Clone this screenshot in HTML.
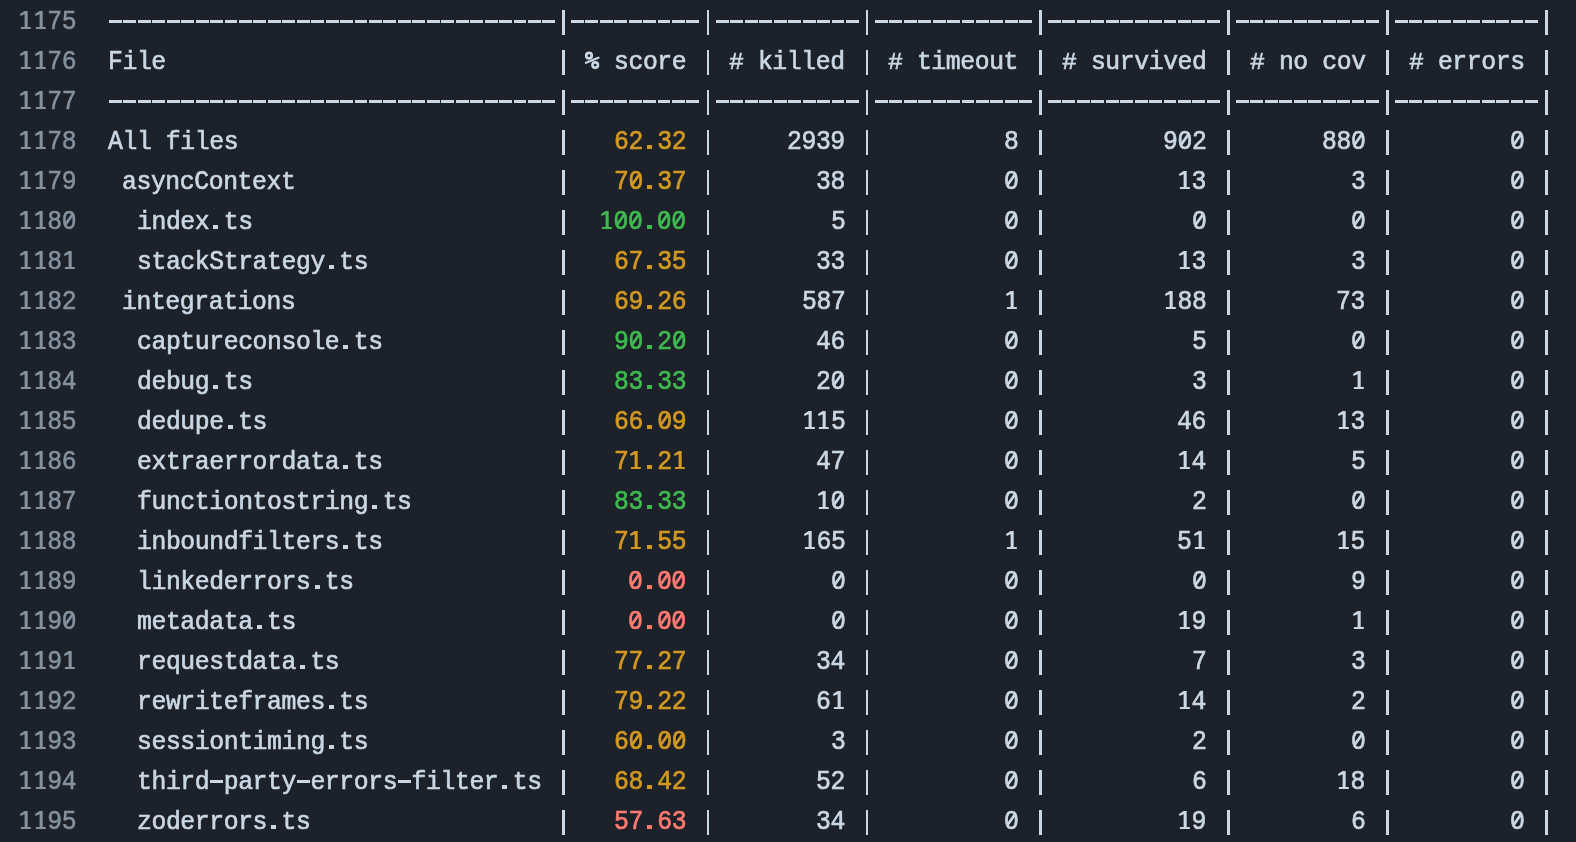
<!DOCTYPE html>
<html><head><meta charset="utf-8"><style>
html,body{margin:0;padding:0;background:#1d2129;width:1576px;height:842px;overflow:hidden}
body{position:relative;font-family:"Liberation Mono",monospace;font-size:27.5px;-webkit-text-stroke:0.7px currentColor;color:#cad7e4}
.row{will-change:transform;position:absolute;left:0;width:1576px;height:40px;line-height:40px;white-space:pre}
.n{position:absolute;right:1500px;top:2px;color:#8592a0;-webkit-text-stroke:0.5px currentColor;letter-spacing:-0.447px;transform:scaleX(0.9);transform-origin:100% 0}
b{position:absolute;top:2px;font-weight:normal;letter-spacing:-0.447px;transform:scaleX(0.9);transform-origin:0 0}
.p{position:absolute;top:10px;height:25px;width:2.6px;background:#cad7e4}
.d{position:absolute;top:20px;height:2.7px;background:repeating-linear-gradient(90deg,transparent 0,transparent 0.9px,#cad7e4 0.9px,#cad7e4 13.8px,transparent 13.8px,transparent 14.45px)}
.y{color:#d29922}.g{color:#3fb950}.rd{color:#ff7b72}
u{text-decoration:none;position:relative}
u::before{content:"";position:absolute;left:4.94px;top:10.2px;width:6.2px;height:6.8px;background:#1d2129}
u::after{content:"";position:absolute;left:6.82px;top:6.2px;width:2.7px;height:14px;background:currentColor;transform:rotate(38deg)}
.pc{position:absolute;left:580px;top:0}
.lc{display:inline-block;transform:scaleY(0.92);transform-origin:0 27.3px}
.pd{position:absolute;top:24.7px;width:5.1px;height:4.4px;background:currentColor}
.o{position:absolute;top:0;fill:currentColor;overflow:visible}.o.ln{color:#8592a0}
.hs{display:inline-block;transform:scaleY(0.9);transform-origin:0 26.5px}
</style></head><body>
<div class="row" style="top:0px"><span class="n">  75</span><i class="d" style="left:108.00px;width:447.95px"></i><i class="d" style="left:570.40px;width:130.05px"></i><i class="d" style="left:714.90px;width:144.50px"></i><i class="d" style="left:873.85px;width:158.95px"></i><i class="d" style="left:1047.25px;width:173.40px"></i><i class="d" style="left:1235.10px;width:144.50px"></i><i class="d" style="left:1394.05px;width:144.50px"></i><i class="p" style="left:562.38px"></i><i class="p" style="left:706.88px"></i><i class="p" style="left:865.83px"></i><i class="p" style="left:1039.22px"></i><i class="p" style="left:1227.07px"></i><i class="p" style="left:1386.02px"></i><i class="p" style="left:1544.97px"></i><svg class="o ln" style="left:18.20px" width="15" height="40"><path d="M6.6 11H9.7V26.9H12.8V29H2.9V26.9H6.6V14.3L2.5 16L2 13.9Z"/></svg><svg class="o ln" style="left:32.65px" width="15" height="40"><path d="M6.6 11H9.7V26.9H12.8V29H2.9V26.9H6.6V14.3L2.5 16L2 13.9Z"/></svg></div>
<div class="row" style="top:40px"><span class="n">  76</span><b class="" style="left:108.00px">F<span class="lc">ile</span></b><b class="" style="left:613.75px"><span class="lc">score</span></b><b class="" style="left:729.35px"><span class="hs">#</span> <span class="lc">killed</span></b><b class="" style="left:888.30px"><span class="hs">#</span> <span class="lc">timeout</span></b><b class="" style="left:1061.70px"><span class="hs">#</span> <span class="lc">survived</span></b><b class="" style="left:1249.55px"><span class="hs">#</span> <span class="lc">no</span> <span class="lc">cov</span></b><b class="" style="left:1408.50px"><span class="hs">#</span> <span class="lc">errors</span></b><i class="p" style="left:562.38px"></i><i class="p" style="left:706.88px"></i><i class="p" style="left:865.83px"></i><i class="p" style="left:1039.22px"></i><i class="p" style="left:1227.07px"></i><i class="p" style="left:1386.02px"></i><i class="p" style="left:1544.97px"></i><svg class="pc" width="24" height="40" viewBox="0 0 24 40"><g fill="none" stroke="#cad7e4"><circle cx="9" cy="15.7" r="2.75" stroke-width="2.7"/><circle cx="15.2" cy="25.1" r="2.75" stroke-width="2.7"/><line x1="6" y1="22.8" x2="18.4" y2="17.7" stroke-width="2.3" stroke-linecap="round"/></g></svg><svg class="o ln" style="left:18.20px" width="15" height="40"><path d="M6.6 11H9.7V26.9H12.8V29H2.9V26.9H6.6V14.3L2.5 16L2 13.9Z"/></svg><svg class="o ln" style="left:32.65px" width="15" height="40"><path d="M6.6 11H9.7V26.9H12.8V29H2.9V26.9H6.6V14.3L2.5 16L2 13.9Z"/></svg></div>
<div class="row" style="top:80px"><span class="n">  77</span><i class="d" style="left:108.00px;width:447.95px"></i><i class="d" style="left:570.40px;width:130.05px"></i><i class="d" style="left:714.90px;width:144.50px"></i><i class="d" style="left:873.85px;width:158.95px"></i><i class="d" style="left:1047.25px;width:173.40px"></i><i class="d" style="left:1235.10px;width:144.50px"></i><i class="d" style="left:1394.05px;width:144.50px"></i><i class="p" style="left:562.38px"></i><i class="p" style="left:706.88px"></i><i class="p" style="left:865.83px"></i><i class="p" style="left:1039.22px"></i><i class="p" style="left:1227.07px"></i><i class="p" style="left:1386.02px"></i><i class="p" style="left:1544.97px"></i><svg class="o ln" style="left:18.20px" width="15" height="40"><path d="M6.6 11H9.7V26.9H12.8V29H2.9V26.9H6.6V14.3L2.5 16L2 13.9Z"/></svg><svg class="o ln" style="left:32.65px" width="15" height="40"><path d="M6.6 11H9.7V26.9H12.8V29H2.9V26.9H6.6V14.3L2.5 16L2 13.9Z"/></svg></div>
<div class="row" style="top:120px"><span class="n">  78</span><b class="" style="left:108.00px">A<span class="lc">ll</span> <span class="lc">files</span></b><i class="pd y" style="left:646.85px"></i><b class="y" style="left:613.75px">62 32</b><b class="" style="left:787.15px">2939</b><b class="" style="left:1003.90px">8</b><b class="" style="left:1162.85px">9<u>0</u>2</b><b class="" style="left:1321.80px">88<u>0</u></b><b class="" style="left:1509.65px"><u>0</u></b><i class="p" style="left:562.38px"></i><i class="p" style="left:706.88px"></i><i class="p" style="left:865.83px"></i><i class="p" style="left:1039.22px"></i><i class="p" style="left:1227.07px"></i><i class="p" style="left:1386.02px"></i><i class="p" style="left:1544.97px"></i><svg class="o ln" style="left:18.20px" width="15" height="40"><path d="M6.6 11H9.7V26.9H12.8V29H2.9V26.9H6.6V14.3L2.5 16L2 13.9Z"/></svg><svg class="o ln" style="left:32.65px" width="15" height="40"><path d="M6.6 11H9.7V26.9H12.8V29H2.9V26.9H6.6V14.3L2.5 16L2 13.9Z"/></svg></div>
<div class="row" style="top:160px"><span class="n">  79</span><b class="" style="left:122.45px"><span class="lc">async</span>C<span class="lc">ontext</span></b><i class="pd y" style="left:646.85px"></i><b class="y" style="left:613.75px">7<u>0</u> 37</b><b class="" style="left:816.05px">38</b><b class="" style="left:1003.90px"><u>0</u></b><svg class="o " style="left:1177.30px" width="15" height="40"><path d="M6.6 11H9.7V26.9H12.8V29H2.9V26.9H6.6V14.3L2.5 16L2 13.9Z"/></svg><b class="" style="left:1177.30px"> 3</b><b class="" style="left:1350.70px">3</b><b class="" style="left:1509.65px"><u>0</u></b><i class="p" style="left:562.38px"></i><i class="p" style="left:706.88px"></i><i class="p" style="left:865.83px"></i><i class="p" style="left:1039.22px"></i><i class="p" style="left:1227.07px"></i><i class="p" style="left:1386.02px"></i><i class="p" style="left:1544.97px"></i><svg class="o ln" style="left:18.20px" width="15" height="40"><path d="M6.6 11H9.7V26.9H12.8V29H2.9V26.9H6.6V14.3L2.5 16L2 13.9Z"/></svg><svg class="o ln" style="left:32.65px" width="15" height="40"><path d="M6.6 11H9.7V26.9H12.8V29H2.9V26.9H6.6V14.3L2.5 16L2 13.9Z"/></svg></div>
<div class="row" style="top:200px"><span class="n">  8<u>0</u></span><i class="pd " style="left:213.35px"></i><b class="" style="left:136.90px"><span class="lc">index</span> <span class="lc">ts</span></b><svg class="o g" style="left:599.30px" width="15" height="40"><path d="M6.6 11H9.7V26.9H12.8V29H2.9V26.9H6.6V14.3L2.5 16L2 13.9Z"/></svg><i class="pd g" style="left:646.85px"></i><b class="g" style="left:599.30px"> <u>0</u><u>0</u> <u>0</u><u>0</u></b><b class="" style="left:830.50px">5</b><b class="" style="left:1003.90px"><u>0</u></b><b class="" style="left:1191.75px"><u>0</u></b><b class="" style="left:1350.70px"><u>0</u></b><b class="" style="left:1509.65px"><u>0</u></b><i class="p" style="left:562.38px"></i><i class="p" style="left:706.88px"></i><i class="p" style="left:865.83px"></i><i class="p" style="left:1039.22px"></i><i class="p" style="left:1227.07px"></i><i class="p" style="left:1386.02px"></i><i class="p" style="left:1544.97px"></i><svg class="o ln" style="left:18.20px" width="15" height="40"><path d="M6.6 11H9.7V26.9H12.8V29H2.9V26.9H6.6V14.3L2.5 16L2 13.9Z"/></svg><svg class="o ln" style="left:32.65px" width="15" height="40"><path d="M6.6 11H9.7V26.9H12.8V29H2.9V26.9H6.6V14.3L2.5 16L2 13.9Z"/></svg></div>
<div class="row" style="top:240px"><span class="n">  8 </span><i class="pd " style="left:328.95px"></i><b class="" style="left:136.90px"><span class="lc">stack</span>S<span class="lc">trategy</span> <span class="lc">ts</span></b><i class="pd y" style="left:646.85px"></i><b class="y" style="left:613.75px">67 35</b><b class="" style="left:816.05px">33</b><b class="" style="left:1003.90px"><u>0</u></b><svg class="o " style="left:1177.30px" width="15" height="40"><path d="M6.6 11H9.7V26.9H12.8V29H2.9V26.9H6.6V14.3L2.5 16L2 13.9Z"/></svg><b class="" style="left:1177.30px"> 3</b><b class="" style="left:1350.70px">3</b><b class="" style="left:1509.65px"><u>0</u></b><i class="p" style="left:562.38px"></i><i class="p" style="left:706.88px"></i><i class="p" style="left:865.83px"></i><i class="p" style="left:1039.22px"></i><i class="p" style="left:1227.07px"></i><i class="p" style="left:1386.02px"></i><i class="p" style="left:1544.97px"></i><svg class="o ln" style="left:18.20px" width="15" height="40"><path d="M6.6 11H9.7V26.9H12.8V29H2.9V26.9H6.6V14.3L2.5 16L2 13.9Z"/></svg><svg class="o ln" style="left:32.65px" width="15" height="40"><path d="M6.6 11H9.7V26.9H12.8V29H2.9V26.9H6.6V14.3L2.5 16L2 13.9Z"/></svg><svg class="o ln" style="left:61.55px" width="15" height="40"><path d="M6.6 11H9.7V26.9H12.8V29H2.9V26.9H6.6V14.3L2.5 16L2 13.9Z"/></svg></div>
<div class="row" style="top:280px"><span class="n">  82</span><b class="" style="left:122.45px"><span class="lc">integrations</span></b><i class="pd y" style="left:646.85px"></i><b class="y" style="left:613.75px">69 26</b><b class="" style="left:801.60px">587</b><svg class="o " style="left:1003.90px" width="15" height="40"><path d="M6.6 11H9.7V26.9H12.8V29H2.9V26.9H6.6V14.3L2.5 16L2 13.9Z"/></svg><b class="" style="left:1003.90px"> </b><svg class="o " style="left:1162.85px" width="15" height="40"><path d="M6.6 11H9.7V26.9H12.8V29H2.9V26.9H6.6V14.3L2.5 16L2 13.9Z"/></svg><b class="" style="left:1162.85px"> 88</b><b class="" style="left:1336.25px">73</b><b class="" style="left:1509.65px"><u>0</u></b><i class="p" style="left:562.38px"></i><i class="p" style="left:706.88px"></i><i class="p" style="left:865.83px"></i><i class="p" style="left:1039.22px"></i><i class="p" style="left:1227.07px"></i><i class="p" style="left:1386.02px"></i><i class="p" style="left:1544.97px"></i><svg class="o ln" style="left:18.20px" width="15" height="40"><path d="M6.6 11H9.7V26.9H12.8V29H2.9V26.9H6.6V14.3L2.5 16L2 13.9Z"/></svg><svg class="o ln" style="left:32.65px" width="15" height="40"><path d="M6.6 11H9.7V26.9H12.8V29H2.9V26.9H6.6V14.3L2.5 16L2 13.9Z"/></svg></div>
<div class="row" style="top:320px"><span class="n">  83</span><i class="pd " style="left:343.40px"></i><b class="" style="left:136.90px"><span class="lc">captureconsole</span> <span class="lc">ts</span></b><i class="pd g" style="left:646.85px"></i><b class="g" style="left:613.75px">9<u>0</u> 2<u>0</u></b><b class="" style="left:816.05px">46</b><b class="" style="left:1003.90px"><u>0</u></b><b class="" style="left:1191.75px">5</b><b class="" style="left:1350.70px"><u>0</u></b><b class="" style="left:1509.65px"><u>0</u></b><i class="p" style="left:562.38px"></i><i class="p" style="left:706.88px"></i><i class="p" style="left:865.83px"></i><i class="p" style="left:1039.22px"></i><i class="p" style="left:1227.07px"></i><i class="p" style="left:1386.02px"></i><i class="p" style="left:1544.97px"></i><svg class="o ln" style="left:18.20px" width="15" height="40"><path d="M6.6 11H9.7V26.9H12.8V29H2.9V26.9H6.6V14.3L2.5 16L2 13.9Z"/></svg><svg class="o ln" style="left:32.65px" width="15" height="40"><path d="M6.6 11H9.7V26.9H12.8V29H2.9V26.9H6.6V14.3L2.5 16L2 13.9Z"/></svg></div>
<div class="row" style="top:360px"><span class="n">  84</span><i class="pd " style="left:213.35px"></i><b class="" style="left:136.90px"><span class="lc">debug</span> <span class="lc">ts</span></b><i class="pd g" style="left:646.85px"></i><b class="g" style="left:613.75px">83 33</b><b class="" style="left:816.05px">2<u>0</u></b><b class="" style="left:1003.90px"><u>0</u></b><b class="" style="left:1191.75px">3</b><svg class="o " style="left:1350.70px" width="15" height="40"><path d="M6.6 11H9.7V26.9H12.8V29H2.9V26.9H6.6V14.3L2.5 16L2 13.9Z"/></svg><b class="" style="left:1350.70px"> </b><b class="" style="left:1509.65px"><u>0</u></b><i class="p" style="left:562.38px"></i><i class="p" style="left:706.88px"></i><i class="p" style="left:865.83px"></i><i class="p" style="left:1039.22px"></i><i class="p" style="left:1227.07px"></i><i class="p" style="left:1386.02px"></i><i class="p" style="left:1544.97px"></i><svg class="o ln" style="left:18.20px" width="15" height="40"><path d="M6.6 11H9.7V26.9H12.8V29H2.9V26.9H6.6V14.3L2.5 16L2 13.9Z"/></svg><svg class="o ln" style="left:32.65px" width="15" height="40"><path d="M6.6 11H9.7V26.9H12.8V29H2.9V26.9H6.6V14.3L2.5 16L2 13.9Z"/></svg></div>
<div class="row" style="top:400px"><span class="n">  85</span><i class="pd " style="left:227.80px"></i><b class="" style="left:136.90px"><span class="lc">dedupe</span> <span class="lc">ts</span></b><i class="pd y" style="left:646.85px"></i><b class="y" style="left:613.75px">66 <u>0</u>9</b><svg class="o " style="left:801.60px" width="15" height="40"><path d="M6.6 11H9.7V26.9H12.8V29H2.9V26.9H6.6V14.3L2.5 16L2 13.9Z"/></svg><svg class="o " style="left:816.05px" width="15" height="40"><path d="M6.6 11H9.7V26.9H12.8V29H2.9V26.9H6.6V14.3L2.5 16L2 13.9Z"/></svg><b class="" style="left:801.60px">  5</b><b class="" style="left:1003.90px"><u>0</u></b><b class="" style="left:1177.30px">46</b><svg class="o " style="left:1336.25px" width="15" height="40"><path d="M6.6 11H9.7V26.9H12.8V29H2.9V26.9H6.6V14.3L2.5 16L2 13.9Z"/></svg><b class="" style="left:1336.25px"> 3</b><b class="" style="left:1509.65px"><u>0</u></b><i class="p" style="left:562.38px"></i><i class="p" style="left:706.88px"></i><i class="p" style="left:865.83px"></i><i class="p" style="left:1039.22px"></i><i class="p" style="left:1227.07px"></i><i class="p" style="left:1386.02px"></i><i class="p" style="left:1544.97px"></i><svg class="o ln" style="left:18.20px" width="15" height="40"><path d="M6.6 11H9.7V26.9H12.8V29H2.9V26.9H6.6V14.3L2.5 16L2 13.9Z"/></svg><svg class="o ln" style="left:32.65px" width="15" height="40"><path d="M6.6 11H9.7V26.9H12.8V29H2.9V26.9H6.6V14.3L2.5 16L2 13.9Z"/></svg></div>
<div class="row" style="top:440px"><span class="n">  86</span><i class="pd " style="left:343.40px"></i><b class="" style="left:136.90px"><span class="lc">extraerrordata</span> <span class="lc">ts</span></b><svg class="o y" style="left:628.20px" width="15" height="40"><path d="M6.6 11H9.7V26.9H12.8V29H2.9V26.9H6.6V14.3L2.5 16L2 13.9Z"/></svg><i class="pd y" style="left:646.85px"></i><svg class="o y" style="left:671.55px" width="15" height="40"><path d="M6.6 11H9.7V26.9H12.8V29H2.9V26.9H6.6V14.3L2.5 16L2 13.9Z"/></svg><b class="y" style="left:613.75px">7  2 </b><b class="" style="left:816.05px">47</b><b class="" style="left:1003.90px"><u>0</u></b><svg class="o " style="left:1177.30px" width="15" height="40"><path d="M6.6 11H9.7V26.9H12.8V29H2.9V26.9H6.6V14.3L2.5 16L2 13.9Z"/></svg><b class="" style="left:1177.30px"> 4</b><b class="" style="left:1350.70px">5</b><b class="" style="left:1509.65px"><u>0</u></b><i class="p" style="left:562.38px"></i><i class="p" style="left:706.88px"></i><i class="p" style="left:865.83px"></i><i class="p" style="left:1039.22px"></i><i class="p" style="left:1227.07px"></i><i class="p" style="left:1386.02px"></i><i class="p" style="left:1544.97px"></i><svg class="o ln" style="left:18.20px" width="15" height="40"><path d="M6.6 11H9.7V26.9H12.8V29H2.9V26.9H6.6V14.3L2.5 16L2 13.9Z"/></svg><svg class="o ln" style="left:32.65px" width="15" height="40"><path d="M6.6 11H9.7V26.9H12.8V29H2.9V26.9H6.6V14.3L2.5 16L2 13.9Z"/></svg></div>
<div class="row" style="top:480px"><span class="n">  87</span><i class="pd " style="left:372.30px"></i><b class="" style="left:136.90px"><span class="lc">functiontostring</span> <span class="lc">ts</span></b><i class="pd g" style="left:646.85px"></i><b class="g" style="left:613.75px">83 33</b><svg class="o " style="left:816.05px" width="15" height="40"><path d="M6.6 11H9.7V26.9H12.8V29H2.9V26.9H6.6V14.3L2.5 16L2 13.9Z"/></svg><b class="" style="left:816.05px"> <u>0</u></b><b class="" style="left:1003.90px"><u>0</u></b><b class="" style="left:1191.75px">2</b><b class="" style="left:1350.70px"><u>0</u></b><b class="" style="left:1509.65px"><u>0</u></b><i class="p" style="left:562.38px"></i><i class="p" style="left:706.88px"></i><i class="p" style="left:865.83px"></i><i class="p" style="left:1039.22px"></i><i class="p" style="left:1227.07px"></i><i class="p" style="left:1386.02px"></i><i class="p" style="left:1544.97px"></i><svg class="o ln" style="left:18.20px" width="15" height="40"><path d="M6.6 11H9.7V26.9H12.8V29H2.9V26.9H6.6V14.3L2.5 16L2 13.9Z"/></svg><svg class="o ln" style="left:32.65px" width="15" height="40"><path d="M6.6 11H9.7V26.9H12.8V29H2.9V26.9H6.6V14.3L2.5 16L2 13.9Z"/></svg></div>
<div class="row" style="top:520px"><span class="n">  88</span><i class="pd " style="left:343.40px"></i><b class="" style="left:136.90px"><span class="lc">inboundfilters</span> <span class="lc">ts</span></b><svg class="o y" style="left:628.20px" width="15" height="40"><path d="M6.6 11H9.7V26.9H12.8V29H2.9V26.9H6.6V14.3L2.5 16L2 13.9Z"/></svg><i class="pd y" style="left:646.85px"></i><b class="y" style="left:613.75px">7  55</b><svg class="o " style="left:801.60px" width="15" height="40"><path d="M6.6 11H9.7V26.9H12.8V29H2.9V26.9H6.6V14.3L2.5 16L2 13.9Z"/></svg><b class="" style="left:801.60px"> 65</b><svg class="o " style="left:1003.90px" width="15" height="40"><path d="M6.6 11H9.7V26.9H12.8V29H2.9V26.9H6.6V14.3L2.5 16L2 13.9Z"/></svg><b class="" style="left:1003.90px"> </b><svg class="o " style="left:1191.75px" width="15" height="40"><path d="M6.6 11H9.7V26.9H12.8V29H2.9V26.9H6.6V14.3L2.5 16L2 13.9Z"/></svg><b class="" style="left:1177.30px">5 </b><svg class="o " style="left:1336.25px" width="15" height="40"><path d="M6.6 11H9.7V26.9H12.8V29H2.9V26.9H6.6V14.3L2.5 16L2 13.9Z"/></svg><b class="" style="left:1336.25px"> 5</b><b class="" style="left:1509.65px"><u>0</u></b><i class="p" style="left:562.38px"></i><i class="p" style="left:706.88px"></i><i class="p" style="left:865.83px"></i><i class="p" style="left:1039.22px"></i><i class="p" style="left:1227.07px"></i><i class="p" style="left:1386.02px"></i><i class="p" style="left:1544.97px"></i><svg class="o ln" style="left:18.20px" width="15" height="40"><path d="M6.6 11H9.7V26.9H12.8V29H2.9V26.9H6.6V14.3L2.5 16L2 13.9Z"/></svg><svg class="o ln" style="left:32.65px" width="15" height="40"><path d="M6.6 11H9.7V26.9H12.8V29H2.9V26.9H6.6V14.3L2.5 16L2 13.9Z"/></svg></div>
<div class="row" style="top:560px"><span class="n">  89</span><i class="pd " style="left:314.50px"></i><b class="" style="left:136.90px"><span class="lc">linkederrors</span> <span class="lc">ts</span></b><i class="pd rd" style="left:646.85px"></i><b class="rd" style="left:628.20px"><u>0</u> <u>0</u><u>0</u></b><b class="" style="left:830.50px"><u>0</u></b><b class="" style="left:1003.90px"><u>0</u></b><b class="" style="left:1191.75px"><u>0</u></b><b class="" style="left:1350.70px">9</b><b class="" style="left:1509.65px"><u>0</u></b><i class="p" style="left:562.38px"></i><i class="p" style="left:706.88px"></i><i class="p" style="left:865.83px"></i><i class="p" style="left:1039.22px"></i><i class="p" style="left:1227.07px"></i><i class="p" style="left:1386.02px"></i><i class="p" style="left:1544.97px"></i><svg class="o ln" style="left:18.20px" width="15" height="40"><path d="M6.6 11H9.7V26.9H12.8V29H2.9V26.9H6.6V14.3L2.5 16L2 13.9Z"/></svg><svg class="o ln" style="left:32.65px" width="15" height="40"><path d="M6.6 11H9.7V26.9H12.8V29H2.9V26.9H6.6V14.3L2.5 16L2 13.9Z"/></svg></div>
<div class="row" style="top:600px"><span class="n">  9<u>0</u></span><i class="pd " style="left:256.70px"></i><b class="" style="left:136.90px"><span class="lc">metadata</span> <span class="lc">ts</span></b><i class="pd rd" style="left:646.85px"></i><b class="rd" style="left:628.20px"><u>0</u> <u>0</u><u>0</u></b><b class="" style="left:830.50px"><u>0</u></b><b class="" style="left:1003.90px"><u>0</u></b><svg class="o " style="left:1177.30px" width="15" height="40"><path d="M6.6 11H9.7V26.9H12.8V29H2.9V26.9H6.6V14.3L2.5 16L2 13.9Z"/></svg><b class="" style="left:1177.30px"> 9</b><svg class="o " style="left:1350.70px" width="15" height="40"><path d="M6.6 11H9.7V26.9H12.8V29H2.9V26.9H6.6V14.3L2.5 16L2 13.9Z"/></svg><b class="" style="left:1350.70px"> </b><b class="" style="left:1509.65px"><u>0</u></b><i class="p" style="left:562.38px"></i><i class="p" style="left:706.88px"></i><i class="p" style="left:865.83px"></i><i class="p" style="left:1039.22px"></i><i class="p" style="left:1227.07px"></i><i class="p" style="left:1386.02px"></i><i class="p" style="left:1544.97px"></i><svg class="o ln" style="left:18.20px" width="15" height="40"><path d="M6.6 11H9.7V26.9H12.8V29H2.9V26.9H6.6V14.3L2.5 16L2 13.9Z"/></svg><svg class="o ln" style="left:32.65px" width="15" height="40"><path d="M6.6 11H9.7V26.9H12.8V29H2.9V26.9H6.6V14.3L2.5 16L2 13.9Z"/></svg></div>
<div class="row" style="top:640px"><span class="n">  9 </span><i class="pd " style="left:300.05px"></i><b class="" style="left:136.90px"><span class="lc">requestdata</span> <span class="lc">ts</span></b><i class="pd y" style="left:646.85px"></i><b class="y" style="left:613.75px">77 27</b><b class="" style="left:816.05px">34</b><b class="" style="left:1003.90px"><u>0</u></b><b class="" style="left:1191.75px">7</b><b class="" style="left:1350.70px">3</b><b class="" style="left:1509.65px"><u>0</u></b><i class="p" style="left:562.38px"></i><i class="p" style="left:706.88px"></i><i class="p" style="left:865.83px"></i><i class="p" style="left:1039.22px"></i><i class="p" style="left:1227.07px"></i><i class="p" style="left:1386.02px"></i><i class="p" style="left:1544.97px"></i><svg class="o ln" style="left:18.20px" width="15" height="40"><path d="M6.6 11H9.7V26.9H12.8V29H2.9V26.9H6.6V14.3L2.5 16L2 13.9Z"/></svg><svg class="o ln" style="left:32.65px" width="15" height="40"><path d="M6.6 11H9.7V26.9H12.8V29H2.9V26.9H6.6V14.3L2.5 16L2 13.9Z"/></svg><svg class="o ln" style="left:61.55px" width="15" height="40"><path d="M6.6 11H9.7V26.9H12.8V29H2.9V26.9H6.6V14.3L2.5 16L2 13.9Z"/></svg></div>
<div class="row" style="top:680px"><span class="n">  92</span><i class="pd " style="left:328.95px"></i><b class="" style="left:136.90px"><span class="lc">rewriteframes</span> <span class="lc">ts</span></b><i class="pd y" style="left:646.85px"></i><b class="y" style="left:613.75px">79 22</b><svg class="o " style="left:830.50px" width="15" height="40"><path d="M6.6 11H9.7V26.9H12.8V29H2.9V26.9H6.6V14.3L2.5 16L2 13.9Z"/></svg><b class="" style="left:816.05px">6 </b><b class="" style="left:1003.90px"><u>0</u></b><svg class="o " style="left:1177.30px" width="15" height="40"><path d="M6.6 11H9.7V26.9H12.8V29H2.9V26.9H6.6V14.3L2.5 16L2 13.9Z"/></svg><b class="" style="left:1177.30px"> 4</b><b class="" style="left:1350.70px">2</b><b class="" style="left:1509.65px"><u>0</u></b><i class="p" style="left:562.38px"></i><i class="p" style="left:706.88px"></i><i class="p" style="left:865.83px"></i><i class="p" style="left:1039.22px"></i><i class="p" style="left:1227.07px"></i><i class="p" style="left:1386.02px"></i><i class="p" style="left:1544.97px"></i><svg class="o ln" style="left:18.20px" width="15" height="40"><path d="M6.6 11H9.7V26.9H12.8V29H2.9V26.9H6.6V14.3L2.5 16L2 13.9Z"/></svg><svg class="o ln" style="left:32.65px" width="15" height="40"><path d="M6.6 11H9.7V26.9H12.8V29H2.9V26.9H6.6V14.3L2.5 16L2 13.9Z"/></svg></div>
<div class="row" style="top:720px"><span class="n">  93</span><i class="pd " style="left:328.95px"></i><b class="" style="left:136.90px"><span class="lc">sessiontiming</span> <span class="lc">ts</span></b><i class="pd y" style="left:646.85px"></i><b class="y" style="left:613.75px">6<u>0</u> <u>0</u><u>0</u></b><b class="" style="left:830.50px">3</b><b class="" style="left:1003.90px"><u>0</u></b><b class="" style="left:1191.75px">2</b><b class="" style="left:1350.70px"><u>0</u></b><b class="" style="left:1509.65px"><u>0</u></b><i class="p" style="left:562.38px"></i><i class="p" style="left:706.88px"></i><i class="p" style="left:865.83px"></i><i class="p" style="left:1039.22px"></i><i class="p" style="left:1227.07px"></i><i class="p" style="left:1386.02px"></i><i class="p" style="left:1544.97px"></i><svg class="o ln" style="left:18.20px" width="15" height="40"><path d="M6.6 11H9.7V26.9H12.8V29H2.9V26.9H6.6V14.3L2.5 16L2 13.9Z"/></svg><svg class="o ln" style="left:32.65px" width="15" height="40"><path d="M6.6 11H9.7V26.9H12.8V29H2.9V26.9H6.6V14.3L2.5 16L2 13.9Z"/></svg></div>
<div class="row" style="top:760px"><span class="n">  94</span><i class="d" style="left:209.15px;width:14.45px"></i><i class="d" style="left:295.85px;width:14.45px"></i><i class="d" style="left:397.00px;width:14.45px"></i><i class="pd " style="left:502.35px"></i><b class="" style="left:136.90px"><span class="lc">third</span> <span class="lc">party</span> <span class="lc">errors</span> <span class="lc">filter</span> <span class="lc">ts</span></b><i class="pd y" style="left:646.85px"></i><b class="y" style="left:613.75px">68 42</b><b class="" style="left:816.05px">52</b><b class="" style="left:1003.90px"><u>0</u></b><b class="" style="left:1191.75px">6</b><svg class="o " style="left:1336.25px" width="15" height="40"><path d="M6.6 11H9.7V26.9H12.8V29H2.9V26.9H6.6V14.3L2.5 16L2 13.9Z"/></svg><b class="" style="left:1336.25px"> 8</b><b class="" style="left:1509.65px"><u>0</u></b><i class="p" style="left:562.38px"></i><i class="p" style="left:706.88px"></i><i class="p" style="left:865.83px"></i><i class="p" style="left:1039.22px"></i><i class="p" style="left:1227.07px"></i><i class="p" style="left:1386.02px"></i><i class="p" style="left:1544.97px"></i><svg class="o ln" style="left:18.20px" width="15" height="40"><path d="M6.6 11H9.7V26.9H12.8V29H2.9V26.9H6.6V14.3L2.5 16L2 13.9Z"/></svg><svg class="o ln" style="left:32.65px" width="15" height="40"><path d="M6.6 11H9.7V26.9H12.8V29H2.9V26.9H6.6V14.3L2.5 16L2 13.9Z"/></svg></div>
<div class="row" style="top:800px"><span class="n">  95</span><i class="pd " style="left:271.15px"></i><b class="" style="left:136.90px"><span class="lc">zoderrors</span> <span class="lc">ts</span></b><i class="pd rd" style="left:646.85px"></i><b class="rd" style="left:613.75px">57 63</b><b class="" style="left:816.05px">34</b><b class="" style="left:1003.90px"><u>0</u></b><svg class="o " style="left:1177.30px" width="15" height="40"><path d="M6.6 11H9.7V26.9H12.8V29H2.9V26.9H6.6V14.3L2.5 16L2 13.9Z"/></svg><b class="" style="left:1177.30px"> 9</b><b class="" style="left:1350.70px">6</b><b class="" style="left:1509.65px"><u>0</u></b><i class="p" style="left:562.38px"></i><i class="p" style="left:706.88px"></i><i class="p" style="left:865.83px"></i><i class="p" style="left:1039.22px"></i><i class="p" style="left:1227.07px"></i><i class="p" style="left:1386.02px"></i><i class="p" style="left:1544.97px"></i><svg class="o ln" style="left:18.20px" width="15" height="40"><path d="M6.6 11H9.7V26.9H12.8V29H2.9V26.9H6.6V14.3L2.5 16L2 13.9Z"/></svg><svg class="o ln" style="left:32.65px" width="15" height="40"><path d="M6.6 11H9.7V26.9H12.8V29H2.9V26.9H6.6V14.3L2.5 16L2 13.9Z"/></svg></div>
</body></html>
